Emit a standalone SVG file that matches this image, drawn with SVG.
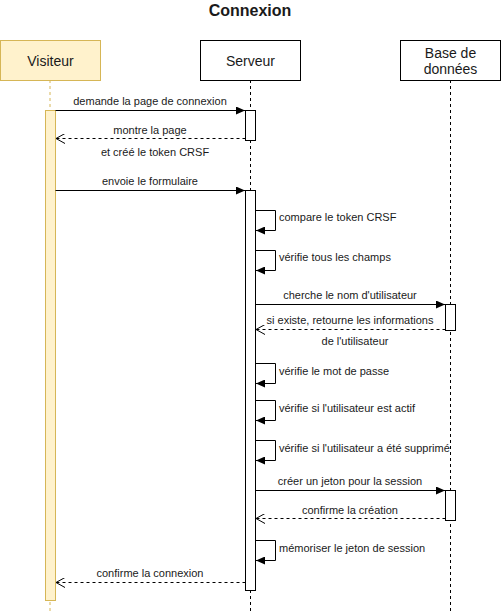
<svg xmlns="http://www.w3.org/2000/svg" width="501" height="611" viewBox="0 0 501 611">
<defs>
<marker id="block" markerWidth="10" markerHeight="8" refX="9" refY="4" orient="auto" markerUnits="userSpaceOnUse"><path d="M0,0 L9,4 L0,8 Z" fill="#000"/></marker>
<marker id="open" markerWidth="10" markerHeight="10" refX="9" refY="5" orient="auto" markerUnits="userSpaceOnUse"><path d="M0,0 L9,5 L0,10" fill="none" stroke="#000" stroke-width="1"/></marker>
</defs>
<style>
text{font-family:"Liberation Sans",Arial,sans-serif;fill:#1a1a1a}
.msg{font-size:11px}
.c{text-anchor:middle}
.head{fill:#fff;stroke:#000;stroke-width:1}
.vis{fill:#fff2cc;stroke:#d6b656;stroke-width:1}
.life{stroke:#000;stroke-dasharray:3 3;fill:none}
.lifev{stroke:#d6b656;stroke-dasharray:3 3;fill:none}
.act{fill:#fff;stroke:#000}
.call{stroke:#000;fill:none;marker-end:url(#block)}
.ret{stroke:#000;stroke-dasharray:3 3;fill:none;marker-end:url(#open)}
.self{stroke:#000;fill:none;marker-end:url(#block)}
</style>
<rect width="501" height="611" fill="#fff"/>
<text x="250" y="16" class="c" style="font-size:16px;font-weight:bold">Connexion</text>

<g id="visiteur">
<line x1="50" y1="80" x2="50" y2="611" class="lifev"/>
<rect x="0.5" y="40.5" width="100" height="40" class="vis"/>
<text x="50.5" y="65.5" class="c" style="font-size:14px">Visiteur</text>
<rect x="45.5" y="110.5" width="10" height="490" class="vis"/>
</g>

<g id="serveur">
<line x1="250.5" y1="80" x2="250.5" y2="611" class="life"/>
<rect x="200.5" y="40.5" width="100" height="40" class="head"/>
<text x="250.5" y="65.5" class="c" style="font-size:14px">Serveur</text>
<rect x="245.5" y="110.5" width="10" height="30" class="act"/>
<rect x="245.5" y="190.5" width="10" height="400" class="act"/>
</g>

<g id="bdd">
<line x1="450.5" y1="80" x2="450.5" y2="611" class="life"/>
<rect x="400.5" y="40.5" width="100" height="40" class="head"/>
<text x="450.5" y="58" class="c" style="font-size:14px">Base de</text>
<text x="450.5" y="74" class="c" style="font-size:14px">données</text>
<rect x="445.5" y="304.5" width="10" height="26" class="act"/>
<rect x="445.5" y="490.5" width="10" height="30" class="act"/>
</g>

<g id="connectors">
<path d="M55.5,110.5 H245" class="call"/>
<path d="M245.5,138.5 H56" class="ret"/>
<path d="M55.5,190.5 H245" class="call"/>
<path d="M255.5,210.5 H275.5 V230.5 H256" class="self"/>
<path d="M255.5,250.5 H275.5 V270.5 H256" class="self"/>
<path d="M255.5,304.5 H445" class="call"/>
<path d="M445.5,329.5 H256" class="ret"/>
<path d="M255.5,363.5 H275.5 V383.5 H256" class="self"/>
<path d="M255.5,400.5 H275.5 V420.5 H256" class="self"/>
<path d="M255.5,440.5 H275.5 V460.5 H256" class="self"/>
<path d="M255.5,490.5 H445" class="call"/>
<path d="M445.5,518.5 H256" class="ret"/>
<path d="M255.5,540.5 H275.5 V560.5 H256" class="self"/>
<path d="M245.5,582.5 H56" class="ret"/>
</g>

<g id="labels" class="msg">
<text x="150" y="105" class="c">demande la page de connexion</text>
<text x="150" y="134" class="c">montre la page</text>
<text x="155" y="156" class="c">et créé le token CRSF</text>
<text x="150" y="185" class="c">envoie le formulaire</text>
<text x="279" y="221">compare le token CRSF</text>
<text x="279" y="261">vérifie tous les champs</text>
<text x="350" y="299" class="c">cherche le nom d'utilisateur</text>
<text x="350" y="324" class="c">si existe, retourne les informations</text>
<text x="355" y="345" class="c">de l'utilisateur</text>
<text x="279" y="375">vérifie le mot de passe</text>
<text x="279" y="412">vérifie si l'utilisateur est actif</text>
<text x="279" y="452">vérifie si l'utilisateur a été supprimé</text>
<text x="350" y="485" class="c">créer un jeton pour la session</text>
<text x="350" y="514" class="c">confirme la création</text>
<text x="279" y="552">mémoriser le jeton de session</text>
<text x="150" y="577" class="c">confirme la connexion</text>
</g>
</svg>
